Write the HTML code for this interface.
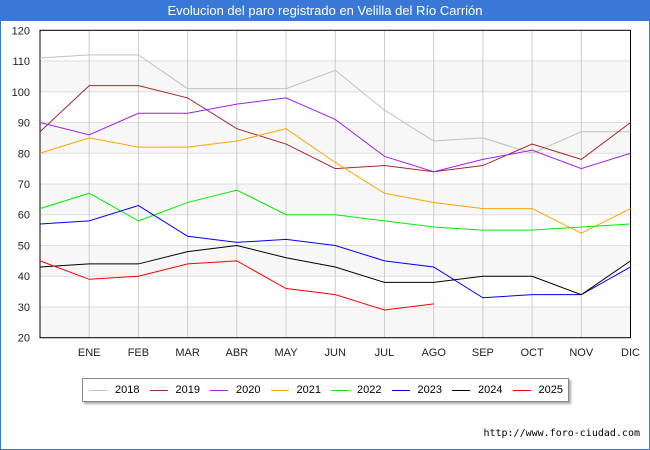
<!DOCTYPE html>
<html><head><meta charset="utf-8"><style>
body{margin:0;width:650px;height:450px;background:#fff;font-family:"Liberation Sans","DejaVu Sans",sans-serif;position:relative;overflow:hidden}
#outer{position:absolute;left:0;top:0;width:648px;height:448px;border:1px solid #3a78d8}
#title{position:absolute;left:0;top:0;width:650px;height:21px;background:#3a78d8;color:#fff;font-size:13px;text-align:center;line-height:21px}
#legend{position:absolute;left:82px;top:378px;width:485px;height:22px;border:1px solid #888;background:#fff;box-shadow:2px 2px 2px #aaa;font-size:11px}
.le{position:absolute;top:5px}
.le span{display:inline-block;width:18px;height:1px;vertical-align:middle;margin-right:8px}
#foot{position:absolute;right:10px;top:428px;font-size:10px;font-family:"DejaVu Sans Mono","Liberation Mono",monospace}
</style></head><body>
<div id="outer"></div>
<div id="title">Evolucion del paro registrado en Velilla del Río Carrión</div>
<svg id="chart" width="650" height="450" style="position:absolute;left:0;top:0"></svg>
<div id="legend"></div>
<div id="foot">http://www.foro-ciudad.com</div>
<script>
const months=["","ENE","FEB","MAR","ABR","MAY","JUN","JUL","AGO","SEP","OCT","NOV","DIC"];
const yTicks=[20,30,40,50,60,70,80,90,100,110,120];
const years=["2018","2019","2020","2021","2022","2023","2024","2025"];
const colors=["#c0c0c0","#a52a2a","#a020f0","#ffa500","#00ee00","#0000ff","#000000","#ff0000"];
const s2018=[111,112,112,101,101,101,107,94,84,85,80,87,87];
const s2019=[87,102,102,98,88,83,75,76,74,76,83,78,90];
const s2020=[90,86,93,93,96,98,91,79,74,78,81,75,80];
const s2021=[80,85,82,82,84,88,77,67,64,62,62,54,62];
const s2022=[62,67,58,64,68,60,60,58,56,55,55,56,57];
const s2023=[57,58,63,53,51,52,50,45,43,33,34,34,43];
const s2024=[43,44,44,48,50,46,43,38,38,40,40,34,45];
const s2025=[45,39,40,44,45,36,34,29,31];
const series=[s2018,s2019,s2020,s2021,s2022,s2023,s2024,s2025];
const L=40,R=630.5,T=30.3,B=337.7,ymin=20,ymax=120;
const X=i=>L+i*(R-L)/12;
const Y=v=>B-(v-ymin)/(ymax-ymin)*(B-T);
const svg=document.getElementById('chart');const NS="http://www.w3.org/2000/svg";
function mk(t,a,p){const e=document.createElementNS(NS,t);for(const k in a)e.setAttribute(k,a[k]);(p||svg).appendChild(e);return e;}
for(let i=0;i<yTicks.length-1;i++){if(i%2===0){const r=mk('rect',{x:L,y:Y(yTicks[i+1]),width:R-L,height:Y(yTicks[i])-Y(yTicks[i+1]),fill:'#f7f7f7'});}}
yTicks.forEach(v=>{const l=mk('line',{x1:L,x2:R,y1:Y(v),y2:Y(v),stroke:'#ddd'});
const t=mk('text',{x:L-10,y:Y(v)+4,'text-anchor':'end','font-size':11,fill:'#222'});t.textContent=v;});
months.forEach((m,i)=>{if(i>0){const l=mk('line',{x1:X(i),x2:X(i),y1:T,y2:B,stroke:'#ccc'});
const t=mk('text',{x:X(i),y:356,'text-anchor':'middle','font-size':11,fill:'#222'});t.textContent=m;}});
const fr=mk('rect',{x:L,y:T,width:R-L,height:B-T,fill:'none',stroke:'#000'});
series.forEach((s,k)=>{const p=mk('polyline',{points:s.map((v,i)=>X(i)+','+Y(v)).join(' '),fill:'none',stroke:colors[k],'stroke-width':1});
});
const lg=document.getElementById('legend');
years.forEach((y,k)=>{const d=document.createElement('div');d.className='le';d.style.left=(6+k*60.5)+'px';
d.innerHTML='<span style="background:'+colors[k]+'"></span>'+y;


lg.appendChild(d);});
</script>
</body></html>
